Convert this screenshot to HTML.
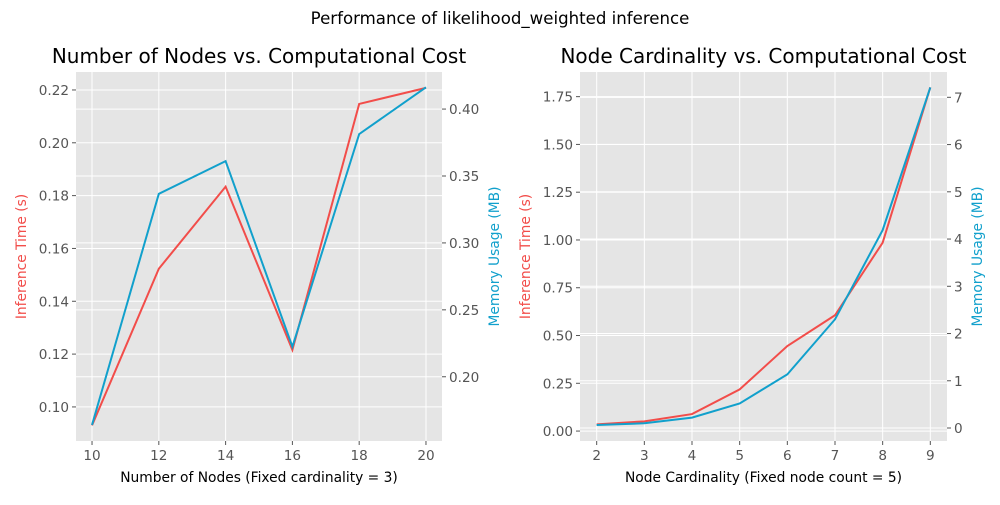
<!DOCTYPE html>
<html><head><meta charset="utf-8"><style>
body{margin:0;background:#fff;}
svg text{font-family:"DejaVu Sans","Liberation Sans",sans-serif;}
</style></head><body>
<svg id="fig" width="1000" height="500" xmlns="http://www.w3.org/2000/svg">
<text x="500" y="24" text-anchor="middle" font-size="16.6" fill="#000">Performance of likelihood_weighted inference</text>
</svg>
<script>
const nodesX = [10, 12, 14, 16, 18, 20];
const nodesTime = [0.093, 0.1523, 0.1834, 0.1216, 0.2147, 0.2208];
const nodesMem = [0.164, 0.3367, 0.3611, 0.2224, 0.3813, 0.4163];
const nodesXTicks = [10, 12, 14, 16, 18, 20];
const nodesTimeTicks = ["0.10", "0.12", "0.14", "0.16", "0.18", "0.20", "0.22"];
const nodesMemTicks = ["0.20", "0.25", "0.30", "0.35", "0.40"];

const cardX = [2, 3, 4, 5, 6, 7, 8, 9];
const cardTime = [0.035, 0.051, 0.089, 0.218, 0.445, 0.606, 0.986, 1.799];
const cardMem = [0.064, 0.10, 0.22, 0.52, 1.136, 2.30, 4.19, 7.21];
const cardXTicks = [2, 3, 4, 5, 6, 7, 8, 9];
const cardTimeTicks = ["0.00", "0.25", "0.50", "0.75", "1.00", "1.25", "1.50", "1.75"];
const cardMemTicks = ["0", "1", "2", "3", "4", "5", "6", "7"];

const NS = "http://www.w3.org/2000/svg";
const svg = document.getElementById('fig');
const RED = "#F24D4A", BLUE = "#11A0CC";
const TK = 13.6, LB = 13.8;
function mk(tag, attrs, parent) {
  const e = document.createElementNS(NS, tag);
  for (const k in attrs) e.setAttribute(k, attrs[k]);
  (parent || svg).appendChild(e);
  return e;
}
function panel(cfg) {
  const g = mk('g', {});
  
  
  const {x0, x1, y0, y1} = cfg;
  const sx = v => x0 + (v - cfg.xlim[0]) / (cfg.xlim[1] - cfg.xlim[0]) * (x1 - x0);
  const syL = v => y1 - (v - cfg.ylimL[0]) / (cfg.ylimL[1] - cfg.ylimL[0]) * (y1 - y0);
  const syR = v => y1 - (v - cfg.ylimR[0]) / (cfg.ylimR[1] - cfg.ylimR[0]) * (y1 - y0);
  const bg = mk('rect', {x: x0, y: y0, width: x1 - x0, height: y1 - y0, fill: '#E5E5E5'}, g);
  
  
  cfg.xticks.forEach(t => {
    const X = sx(t);
    mk('line', {x1: X, x2: X, y1: y0, y2: y1, stroke: '#fff', 'stroke-width': 1}, g);
    mk('line', {x1: X, x2: X, y1: y1, y2: y1 + 4, stroke: '#555'}, g);
    const tx = mk('text', {x: X, y: y1 + 19, 'text-anchor': 'middle', 'font-size': TK, fill: '#555'}, g);
    tx.textContent = t;
    
    
  });
  cfg.yticksL.forEach(t => {
    const Y = syL(parseFloat(t));
    mk('line', {x1: x0, x2: x1, y1: Y, y2: Y, stroke: '#fff', 'stroke-width': 1}, g);
    mk('line', {x1: x0 - 4, x2: x0, y1: Y, y2: Y, stroke: '#555'}, g);
    const tx = mk('text', {x: x0 - 7, y: Y + 5, 'text-anchor': 'end', 'font-size': TK, fill: '#555'}, g);
    tx.textContent = t;
    
    
  });
  cfg.yticksR.forEach(t => {
    const Y = syR(parseFloat(t));
    mk('line', {x1: x0, x2: x1, y1: Y, y2: Y, stroke: '#fff', 'stroke-width': 1}, g);
    mk('line', {x1: x1, x2: x1 + 4, y1: Y, y2: Y, stroke: '#555'}, g);
    const tx = mk('text', {x: x1 + 7, y: Y + 5, 'text-anchor': 'start', 'font-size': TK, fill: '#555'}, g);
    tx.textContent = t;
    
    
  });
  const pr = mk('polyline', {points: cfg.x.map((v, i) => sx(v) + ',' + syL(cfg.time[i])).join(' '), fill: 'none', stroke: RED, 'stroke-width': 2}, g);
  
  
  const pb = mk('polyline', {points: cfg.x.map((v, i) => sx(v) + ',' + syR(cfg.mem[i])).join(' '), fill: 'none', stroke: BLUE, 'stroke-width': 2}, g);
  
  
  const ti = mk('text', {x: (x0 + x1) / 2, y: 63, 'text-anchor': 'middle', 'font-size': 20, fill: '#000'}, g);
  ti.textContent = cfg.title;
  
  
  const xl = mk('text', {x: (x0 + x1) / 2, y: 482, 'text-anchor': 'middle', 'font-size': LB, fill: '#000'}, g);
  xl.textContent = cfg.xlabel;
  
  
  const cy = (y0 + y1) / 2;
  const yl = mk('text', {x: cfg.lx, y: cy, 'text-anchor': 'middle', 'font-size': LB, fill: RED, transform: `rotate(-90 ${cfg.lx} ${cy})`}, g);
  yl.textContent = 'Inference Time (s)';
  
  
  const yr = mk('text', {x: cfg.rx, y: cy, 'text-anchor': 'middle', 'font-size': LB, fill: BLUE, transform: `rotate(-90 ${cfg.rx} ${cy})`}, g);
  yr.textContent = 'Memory Usage (MB)';
  
  
}
panel({name: 'nodes-chart', x0: 76, x1: 442, y0: 72, y1: 441, xlim: [9.52, 20.48], ylimL: [0.0871, 0.2268], ylimR: [0.152, 0.4277],
  xticks: nodesXTicks, yticksL: nodesTimeTicks, yticksR: nodesMemTicks, x: nodesX, time: nodesTime, mem: nodesMem,
  title: 'Number of Nodes vs. Computational Cost', xlabel: 'Number of Nodes (Fixed cardinality = 3)', lx: 26, rx: 499});
panel({name: 'cardinality-chart', x0: 580, x1: 947, y0: 72, y1: 441, xlim: [1.65, 9.35], ylimL: [-0.052, 1.879], ylimR: [-0.275, 7.536],
  xticks: cardXTicks, yticksL: cardTimeTicks, yticksR: cardMemTicks, x: cardX, time: cardTime, mem: cardMem,
  title: 'Node Cardinality vs. Computational Cost', xlabel: 'Node Cardinality (Fixed node count = 5)', lx: 530, rx: 982});
</script>
</body></html>
